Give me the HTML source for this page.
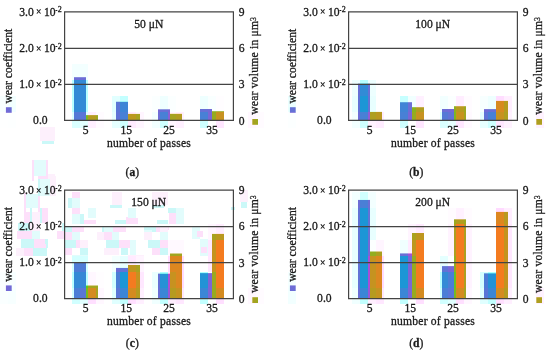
<!DOCTYPE html>
<html><head><meta charset="utf-8"><style>
html,body{margin:0;padding:0;background:#fff;}
svg{display:block;will-change:transform;}
text{font-family:"Liberation Serif",serif;font-size:11.6px;fill:#1a1a1a;stroke:#1a1a1a;stroke-width:0.3px;}
</style></head><body>
<svg width="550" height="355" viewBox="0 0 550 355" shape-rendering="crispEdges">
<rect width="550" height="355" fill="#fff"/>
<g><rect x="40" y="127" width="15" height="14" fill="#fdf0fc"/><rect x="42" y="141" width="12" height="3" fill="#cbf8f8"/><rect x="0" y="120" width="16" height="7" fill="#e2fcfc"/><rect x="32" y="160" width="2" height="18" fill="#fde0fa"/><rect x="34" y="160" width="12" height="16" fill="#e2fcfc"/><rect x="46" y="160" width="2" height="18" fill="#fde0fa"/><rect x="38" y="176" width="10" height="3" fill="#fde0fa"/><rect x="48" y="174" width="7" height="10" fill="#fdf0fc"/><rect x="32" y="176" width="2" height="5" fill="#fde0fa"/><rect x="40" y="176" width="8" height="3" fill="#fde0fa"/><rect x="38" y="179" width="2" height="17" fill="#cbf8f8"/><rect x="40" y="179" width="10" height="17" fill="#e2fcfc"/><rect x="50" y="176" width="6" height="20" fill="#fdf0fc"/><rect x="24" y="193" width="2" height="19" fill="#fde0fa"/><rect x="26" y="194" width="12" height="14" fill="#e2fcfc"/><rect x="38" y="196" width="2" height="16" fill="#fde0fa"/><rect x="30" y="208" width="2" height="4" fill="#cbf8f8"/><rect x="40" y="208" width="2" height="4" fill="#cbf8f8"/><rect x="42" y="208" width="6" height="4" fill="#fde0fa"/><rect x="24" y="212" width="6" height="11" fill="#fde0fa"/><rect x="30" y="212" width="2" height="11" fill="#cbf8f8"/><rect x="32" y="212" width="8" height="11" fill="#fdf0fc"/><rect x="40" y="212" width="2" height="11" fill="#cbf8f8"/><rect x="42" y="212" width="6" height="11" fill="#fde0fa"/><rect x="18" y="223" width="12" height="8" fill="#cbf8f8"/><rect x="30" y="223" width="10" height="8" fill="#fdf0fc"/><rect x="62" y="223" width="2" height="8" fill="#cbf8f8"/><rect x="17" y="231" width="15" height="8" fill="#fde0fa"/><rect x="32" y="231" width="8" height="8" fill="#e2fcfc"/><rect x="57" y="231" width="7" height="8" fill="#fde0fa"/><rect x="21" y="239" width="13" height="9" fill="#cbf8f8"/><rect x="34" y="239" width="11" height="9" fill="#fde0fa"/><rect x="45" y="239" width="3" height="9" fill="#cbf8f8"/><rect x="72" y="192" width="8" height="6" fill="#fde0fa"/><rect x="68" y="198" width="4" height="10" fill="#cbf8f8"/><rect x="72" y="198" width="8" height="10" fill="#e2fcfc"/><rect x="72" y="208" width="8" height="6" fill="#fde0fa"/><rect x="72" y="214" width="8" height="10" fill="#e2fcfc"/><rect x="80" y="214" width="4" height="10" fill="#cbf8f8"/><rect x="84" y="220" width="4" height="4" fill="#fde0fa"/><rect x="88" y="208" width="8" height="10" fill="#e2fcfc"/><rect x="88" y="220" width="8" height="4" fill="#fde0fa"/><rect x="110" y="205" width="12" height="3" fill="#cbf8f8"/><rect x="112" y="192" width="10" height="13" fill="#fdf0fc"/><rect x="115" y="220" width="11" height="4" fill="#cbf8f8"/><rect x="126" y="217" width="2" height="7" fill="#fde0fa"/><rect x="65" y="227" width="7" height="5" fill="#cbf8f8"/><rect x="72" y="227" width="12" height="5" fill="#fde0fa"/><rect x="102" y="227" width="2" height="5" fill="#cbf8f8"/><rect x="104" y="227" width="9" height="5" fill="#e2fcfc"/><rect x="113" y="227" width="13" height="5" fill="#fde0fa"/><rect x="65" y="232" width="7" height="8" fill="#fde0fa"/><rect x="72" y="232" width="8" height="8" fill="#e2fcfc"/><rect x="97" y="232" width="7" height="8" fill="#fdf0fc"/><rect x="104" y="232" width="8" height="8" fill="#fde0fa"/><rect x="112" y="232" width="7" height="8" fill="#e2fcfc"/><rect x="65" y="240" width="7" height="8" fill="#cbf8f8"/><rect x="72" y="240" width="4" height="8" fill="#cbf8f8"/><rect x="76" y="240" width="4" height="8" fill="#fde0fa"/><rect x="80" y="240" width="8" height="8" fill="#fdf0fc"/><rect x="106" y="240" width="13" height="8" fill="#cbf8f8"/><rect x="119" y="240" width="9" height="8" fill="#fde0fa"/><rect x="65" y="248" width="7" height="7" fill="#fde0fa"/><rect x="80" y="248" width="8" height="7" fill="#cbf8f8"/><rect x="104" y="248" width="15" height="7" fill="#fdf0fc"/><rect x="121" y="248" width="7" height="7" fill="#cbf8f8"/><rect x="72" y="255" width="16" height="7" fill="#e2fcfc"/><rect x="152" y="192" width="16" height="13" fill="#fdf0fc"/><rect x="152" y="205" width="12" height="3" fill="#cbf8f8"/><rect x="128" y="208" width="8" height="10" fill="#e2fcfc"/><rect x="128" y="218" width="10" height="6" fill="#fde0fa"/><rect x="168" y="208" width="8" height="5" fill="#cbf8f8"/><rect x="169" y="213" width="11" height="11" fill="#fde0fa"/><rect x="176" y="208" width="8" height="16" fill="#e2fcfc"/><rect x="157" y="220" width="11" height="4" fill="#cbf8f8"/><rect x="144" y="226" width="12" height="4" fill="#cbf8f8"/><rect x="156" y="226" width="13" height="4" fill="#fde0fa"/><rect x="144" y="230" width="8" height="2" fill="#e2fcfc"/><rect x="152" y="230" width="4" height="2" fill="#cbf8f8"/><rect x="156" y="230" width="4" height="2" fill="#fde0fa"/><rect x="160" y="227" width="8" height="5" fill="#fdf0fc"/><rect x="144" y="232" width="8" height="8" fill="#fdf0fc"/><rect x="160" y="232" width="8" height="8" fill="#e2fcfc"/><rect x="128" y="240" width="2" height="8" fill="#fde0fa"/><rect x="130" y="240" width="6" height="15" fill="#e2fcfc"/><rect x="148" y="240" width="12" height="8" fill="#cbf8f8"/><rect x="160" y="240" width="8" height="8" fill="#fde0fa"/><rect x="168" y="240" width="4" height="8" fill="#fde0fa"/><rect x="152" y="248" width="8" height="7" fill="#fde0fa"/><rect x="160" y="248" width="8" height="7" fill="#cbf8f8"/><rect x="128" y="255" width="16" height="7" fill="#fdf0fc"/><rect x="240" y="190" width="8" height="12" fill="#fdf0fc"/><rect x="241" y="202" width="6" height="6" fill="#cbf8f8"/><rect x="231" y="207" width="4" height="3" fill="#cbf8f8"/><rect x="192" y="227" width="8" height="12" fill="#e2fcfc"/><rect x="197" y="231" width="6" height="6" fill="#fde0fa"/><rect x="200" y="239" width="8" height="17" fill="#e2fcfc"/><rect x="201" y="247" width="6" height="6" fill="#fde0fa"/><rect x="22" y="244" width="12" height="4" fill="#cbf8f8"/><rect x="34" y="244" width="12" height="4" fill="#fde0fa"/><rect x="16" y="248" width="8" height="8" fill="#fdf0fc"/><rect x="24" y="248" width="9" height="8" fill="#fde0fa"/><rect x="33" y="248" width="14" height="8" fill="#cbf8f8"/></g>
<g><rect x="72" y="64" width="16" height="13" fill="#f3ffff"/><rect x="74" y="77" width="12" height="1" fill="#878bde"/><rect x="72" y="77" width="2" height="3" fill="#f3ffff"/><rect x="86" y="77" width="2" height="3" fill="#f3ffff"/><rect x="74" y="78" width="12" height="2" fill="#6d6dd6"/><rect x="352" y="80" width="8" height="3" fill="#edffff"/><rect x="360" y="80" width="8" height="3" fill="#b7ffff"/><rect x="368" y="80" width="8" height="3" fill="#edffff"/><rect x="358" y="83" width="2" height="1" fill="#b7cbef"/><rect x="360" y="83" width="8" height="1" fill="#81e7ef"/><rect x="368" y="83" width="2" height="1" fill="#b7cbef"/><rect x="352" y="83" width="6" height="13" fill="#edffff"/><rect x="370" y="83" width="6" height="13" fill="#edffff"/><rect x="358" y="84" width="2" height="12" fill="#6770d6"/><rect x="360" y="84" width="8" height="12" fill="#318bd6"/><rect x="368" y="84" width="2" height="12" fill="#6770d6"/><rect x="496" y="96" width="8" height="4" fill="#ffddff"/><rect x="504" y="96" width="8" height="4" fill="#ffeeff"/><rect x="112" y="96" width="8" height="5" fill="#e1ffff"/><rect x="120" y="96" width="8" height="5" fill="#c3ffff"/><rect x="496" y="100" width="8" height="1" fill="#ffd5e9"/><rect x="504" y="100" width="4" height="1" fill="#ffe6e9"/><rect x="400" y="96" width="8" height="6" fill="#c6ffff"/><rect x="408" y="96" width="8" height="6" fill="#f1ffff"/><rect x="116" y="101" width="4" height="1" fill="#b9e1f3"/><rect x="120" y="101" width="8" height="1" fill="#9bf0f3"/><rect x="400" y="102" width="8" height="1" fill="#5ba2de"/><rect x="408" y="102" width="4" height="1" fill="#868cde"/><rect x="448" y="96" width="8" height="10" fill="#fbffff"/><rect x="456" y="96" width="8" height="10" fill="#ffedff"/><rect x="464" y="96" width="8" height="10" fill="#fffbff"/><rect x="0" y="96" width="8" height="11" fill="#f8ffff"/><rect x="8" y="96" width="8" height="11" fill="#f2ffff"/><rect x="288" y="96" width="8" height="11" fill="#ebffff"/><rect x="416" y="96" width="8" height="11" fill="#fff0ff"/><rect x="412" y="102" width="4" height="5" fill="#f1ffff"/><rect x="454" y="106" width="2" height="1" fill="#a6be4d"/><rect x="456" y="106" width="8" height="1" fill="#cdab4d"/><rect x="464" y="106" width="2" height="1" fill="#b3b84d"/><rect x="5" y="107" width="1" height="1" fill="#edf7fc"/><rect x="6" y="107" width="2" height="1" fill="#8c89de"/><rect x="8" y="107" width="3" height="1" fill="#878cde"/><rect x="11" y="107" width="1" height="1" fill="#a7b0e8"/><rect x="289" y="107" width="1" height="1" fill="#e0fdfc"/><rect x="290" y="107" width="5" height="1" fill="#7f8fde"/><rect x="295" y="107" width="1" height="1" fill="#a0b4e8"/><rect x="412" y="107" width="4" height="1" fill="#9cc34d"/><rect x="416" y="107" width="8" height="1" fill="#c7ae4d"/><rect x="152" y="96" width="8" height="13" fill="#fbffff"/><rect x="160" y="96" width="8" height="13" fill="#efffff"/><rect x="168" y="96" width="8" height="13" fill="#fbffff"/><rect x="200" y="96" width="8" height="13" fill="#eeffff"/><rect x="208" y="96" width="8" height="13" fill="#f9ffff"/><rect x="440" y="96" width="8" height="13" fill="#f2ffff"/><rect x="480" y="96" width="8" height="13" fill="#f7ffff"/><rect x="488" y="96" width="8" height="13" fill="#eeffff"/><rect x="448" y="106" width="6" height="3" fill="#fbffff"/><rect x="158" y="109" width="2" height="1" fill="#9d96e2"/><rect x="160" y="109" width="8" height="1" fill="#919ce2"/><rect x="168" y="109" width="2" height="1" fill="#9d96e2"/><rect x="484" y="109" width="4" height="1" fill="#7e7ada"/><rect x="488" y="109" width="8" height="1" fill="#757fda"/><rect x="216" y="96" width="8" height="15" fill="#fffdff"/><rect x="370" y="96" width="6" height="15" fill="#e8ffff"/><rect x="212" y="109" width="4" height="2" fill="#f9ffff"/><rect x="72" y="80" width="2" height="32" fill="#b9ffff"/><rect x="74" y="80" width="12" height="32" fill="#338ad6"/><rect x="86" y="80" width="2" height="32" fill="#b9ffff"/><rect x="352" y="96" width="6" height="16" fill="#e8ffff"/><rect x="358" y="96" width="2" height="16" fill="#6273d6"/><rect x="360" y="96" width="8" height="16" fill="#1c96d6"/><rect x="368" y="96" width="2" height="16" fill="#6272d6"/><rect x="508" y="100" width="4" height="12" fill="#ffeeff"/><rect x="112" y="101" width="4" height="11" fill="#e1ffff"/><rect x="496" y="101" width="8" height="11" fill="#d78a20"/><rect x="504" y="101" width="4" height="11" fill="#b69b20"/><rect x="116" y="102" width="4" height="10" fill="#5b76d6"/><rect x="120" y="102" width="8" height="10" fill="#3d85d6"/><rect x="400" y="103" width="8" height="9" fill="#4084d6"/><rect x="408" y="103" width="4" height="9" fill="#6b6ed6"/><rect x="466" y="106" width="6" height="6" fill="#fffbff"/><rect x="0" y="107" width="5" height="5" fill="#f8ffff"/><rect x="12" y="107" width="4" height="5" fill="#f2ffff"/><rect x="288" y="107" width="1" height="5" fill="#ebffff"/><rect x="454" y="107" width="2" height="5" fill="#90ae20"/><rect x="456" y="107" width="8" height="5" fill="#b79a20"/><rect x="464" y="107" width="2" height="5" fill="#9da720"/><rect x="5" y="108" width="1" height="4" fill="#eaf3fb"/><rect x="6" y="108" width="2" height="4" fill="#726ad6"/><rect x="8" y="108" width="3" height="4" fill="#6c6dd6"/><rect x="11" y="108" width="1" height="4" fill="#949be2"/><rect x="289" y="108" width="1" height="4" fill="#ddfafb"/><rect x="290" y="108" width="5" height="4" fill="#6571d6"/><rect x="295" y="108" width="1" height="4" fill="#8d9fe2"/><rect x="412" y="108" width="4" height="4" fill="#87b320"/><rect x="416" y="108" width="8" height="4" fill="#b19d20"/><rect x="152" y="109" width="6" height="3" fill="#fbffff"/><rect x="170" y="109" width="6" height="3" fill="#fbffff"/><rect x="200" y="109" width="8" height="3" fill="#6770d6"/><rect x="208" y="109" width="4" height="3" fill="#726ad6"/><rect x="440" y="109" width="2" height="3" fill="#f2ffff"/><rect x="442" y="109" width="6" height="3" fill="#6c6dd6"/><rect x="448" y="109" width="6" height="3" fill="#7469d6"/><rect x="480" y="109" width="4" height="3" fill="#f7ffff"/><rect x="158" y="110" width="2" height="2" fill="#7569d6"/><rect x="160" y="110" width="8" height="2" fill="#696fd6"/><rect x="168" y="110" width="2" height="2" fill="#7569d6"/><rect x="484" y="110" width="4" height="2" fill="#706bd6"/><rect x="488" y="110" width="8" height="2" fill="#686fd6"/><rect x="212" y="111" width="4" height="1" fill="#a4bf4d"/><rect x="216" y="111" width="8" height="1" fill="#afba4d"/><rect x="370" y="111" width="6" height="1" fill="#deffe9"/><rect x="376" y="111" width="6" height="1" fill="#f5f6e9"/><rect x="0" y="112" width="5" height="1" fill="#feffff"/><rect x="5" y="112" width="1" height="1" fill="#f3f3fc"/><rect x="6" y="112" width="5" height="1" fill="#9286de"/><rect x="11" y="112" width="1" height="1" fill="#b2abe8"/><rect x="12" y="112" width="4" height="1" fill="#fdffff"/><rect x="128" y="112" width="8" height="1" fill="#ffebff"/><rect x="136" y="112" width="8" height="1" fill="#fff5ff"/><rect x="170" y="112" width="6" height="1" fill="#fff6ff"/><rect x="176" y="112" width="8" height="1" fill="#fff0ff"/><rect x="288" y="112" width="1" height="1" fill="#fcffff"/><rect x="289" y="112" width="1" height="1" fill="#f1f5fc"/><rect x="290" y="112" width="5" height="1" fill="#9087de"/><rect x="295" y="112" width="1" height="1" fill="#b0abe8"/><rect x="128" y="113" width="8" height="1" fill="#ffe3e9"/><rect x="136" y="113" width="4" height="1" fill="#ffede9"/><rect x="170" y="113" width="6" height="1" fill="#fbe6d2"/><rect x="176" y="113" width="6" height="1" fill="#ffdfd2"/><rect x="86" y="112" width="2" height="3" fill="#e2ffff"/><rect x="88" y="112" width="8" height="3" fill="#ffefff"/><rect x="96" y="112" width="8" height="3" fill="#fffbff"/><rect x="86" y="115" width="2" height="1" fill="#83c236"/><rect x="88" y="115" width="8" height="1" fill="#bfa436"/><rect x="96" y="115" width="2" height="1" fill="#a7b036"/><rect x="248" y="112" width="8" height="7" fill="#fff7ff"/><rect x="256" y="112" width="8" height="7" fill="#fffbff"/><rect x="536" y="112" width="8" height="7" fill="#fff2ff"/><rect x="74" y="112" width="6" height="8" fill="#5479d6"/><rect x="80" y="112" width="6" height="8" fill="#5c75d6"/><rect x="116" y="112" width="4" height="8" fill="#6073d6"/><rect x="120" y="112" width="8" height="8" fill="#4880d6"/><rect x="158" y="112" width="2" height="8" fill="#6d6dd6"/><rect x="160" y="112" width="8" height="8" fill="#4880d6"/><rect x="168" y="112" width="2" height="8" fill="#8a5ed6"/><rect x="200" y="112" width="8" height="8" fill="#4880d6"/><rect x="208" y="112" width="4" height="8" fill="#7966d6"/><rect x="212" y="112" width="4" height="8" fill="#95ab20"/><rect x="216" y="112" width="8" height="8" fill="#c79220"/><rect x="358" y="112" width="2" height="8" fill="#6d6dd6"/><rect x="360" y="112" width="8" height="8" fill="#4880d6"/><rect x="368" y="112" width="2" height="8" fill="#925ad6"/><rect x="370" y="112" width="6" height="8" fill="#ae9f20"/><rect x="376" y="112" width="6" height="8" fill="#ba9820"/><rect x="400" y="112" width="8" height="8" fill="#4880d6"/><rect x="408" y="112" width="4" height="8" fill="#7966d6"/><rect x="412" y="112" width="4" height="8" fill="#95ab20"/><rect x="416" y="112" width="8" height="8" fill="#c79220"/><rect x="442" y="112" width="6" height="8" fill="#5479d6"/><rect x="448" y="112" width="6" height="8" fill="#6173d6"/><rect x="454" y="112" width="2" height="8" fill="#7db820"/><rect x="456" y="112" width="8" height="8" fill="#c79220"/><rect x="464" y="112" width="2" height="8" fill="#a1a520"/><rect x="484" y="112" width="4" height="8" fill="#6073d6"/><rect x="488" y="112" width="8" height="8" fill="#4880d6"/><rect x="496" y="112" width="8" height="8" fill="#c79220"/><rect x="504" y="112" width="4" height="8" fill="#ae9f20"/><rect x="128" y="114" width="8" height="6" fill="#bb9820"/><rect x="136" y="114" width="4" height="6" fill="#a8a220"/><rect x="170" y="114" width="6" height="6" fill="#a6a320"/><rect x="176" y="114" width="6" height="6" fill="#b29c20"/><rect x="86" y="116" width="2" height="4" fill="#78ba20"/><rect x="88" y="116" width="8" height="4" fill="#b49b20"/><rect x="96" y="116" width="2" height="4" fill="#9da720"/><rect x="72" y="112" width="2" height="9" fill="#daffff"/><rect x="112" y="112" width="4" height="9" fill="#e7ffff"/><rect x="152" y="112" width="6" height="9" fill="#f3ffff"/><rect x="352" y="112" width="6" height="9" fill="#f3ffff"/><rect x="382" y="112" width="2" height="9" fill="#ffecff"/><rect x="440" y="112" width="2" height="9" fill="#daffff"/><rect x="466" y="112" width="6" height="9" fill="#fff9ff"/><rect x="480" y="112" width="4" height="9" fill="#e7ffff"/><rect x="508" y="112" width="4" height="9" fill="#fff2ff"/><rect x="140" y="113" width="4" height="8" fill="#fff5ff"/><rect x="182" y="113" width="2" height="8" fill="#fff0ff"/><rect x="98" y="115" width="6" height="6" fill="#fffbff"/><rect x="74" y="120" width="6" height="1" fill="#a5d5ef"/><rect x="80" y="120" width="6" height="1" fill="#add1ef"/><rect x="86" y="120" width="2" height="1" fill="#b8eca6"/><rect x="88" y="120" width="8" height="1" fill="#f4cea6"/><rect x="96" y="120" width="2" height="1" fill="#dcdaa6"/><rect x="116" y="120" width="4" height="1" fill="#b1ceef"/><rect x="120" y="120" width="8" height="1" fill="#99dbef"/><rect x="128" y="120" width="8" height="1" fill="#fbcaa6"/><rect x="136" y="120" width="4" height="1" fill="#e8d4a6"/><rect x="158" y="120" width="2" height="1" fill="#bdc8ef"/><rect x="160" y="120" width="8" height="1" fill="#99dbef"/><rect x="168" y="120" width="2" height="1" fill="#dbb9ef"/><rect x="170" y="120" width="6" height="1" fill="#e6d5a6"/><rect x="176" y="120" width="6" height="1" fill="#f2cfa6"/><rect x="200" y="120" width="8" height="1" fill="#99dbef"/><rect x="208" y="120" width="4" height="1" fill="#cac2ef"/><rect x="212" y="120" width="4" height="1" fill="#d5dda6"/><rect x="216" y="120" width="8" height="1" fill="#ffc4a6"/><rect x="358" y="120" width="2" height="1" fill="#bdc8ef"/><rect x="360" y="120" width="8" height="1" fill="#99dbef"/><rect x="368" y="120" width="2" height="1" fill="#e3b5ef"/><rect x="370" y="120" width="6" height="1" fill="#eed1a6"/><rect x="376" y="120" width="6" height="1" fill="#facba6"/><rect x="400" y="120" width="8" height="1" fill="#99dbef"/><rect x="408" y="120" width="4" height="1" fill="#cac2ef"/><rect x="412" y="120" width="4" height="1" fill="#d5dda6"/><rect x="416" y="120" width="8" height="1" fill="#ffc4a6"/><rect x="442" y="120" width="6" height="1" fill="#a5d5ef"/><rect x="448" y="120" width="6" height="1" fill="#b1ceef"/><rect x="454" y="120" width="2" height="1" fill="#bceaa6"/><rect x="456" y="120" width="8" height="1" fill="#ffc4a6"/><rect x="464" y="120" width="2" height="1" fill="#e1d7a6"/><rect x="484" y="120" width="4" height="1" fill="#b1ceef"/><rect x="488" y="120" width="8" height="1" fill="#99dbef"/><rect x="496" y="120" width="8" height="1" fill="#ffc4a6"/><rect x="504" y="120" width="4" height="1" fill="#eed1a6"/><rect x="252" y="119" width="1" height="5" fill="#c5bc63"/><rect x="253" y="119" width="3" height="5" fill="#a5a320"/><rect x="256" y="119" width="2" height="5" fill="#9da720"/><rect x="536" y="119" width="1" height="5" fill="#cdb863"/><rect x="537" y="119" width="5" height="5" fill="#ad9f20"/><rect x="248" y="119" width="4" height="6" fill="#fff7ff"/><rect x="258" y="119" width="6" height="6" fill="#fffbff"/><rect x="542" y="119" width="2" height="6" fill="#fff2ff"/><rect x="252" y="124" width="1" height="1" fill="#d3c882"/><rect x="253" y="124" width="3" height="1" fill="#bab44d"/><rect x="256" y="124" width="2" height="1" fill="#b3b84d"/><rect x="536" y="124" width="1" height="1" fill="#dcc482"/><rect x="537" y="124" width="5" height="1" fill="#c3b04d"/><rect x="0" y="113" width="8" height="15" fill="#feffff"/><rect x="8" y="113" width="8" height="15" fill="#fdffff"/><rect x="288" y="113" width="8" height="15" fill="#fcffff"/><rect x="72" y="121" width="8" height="7" fill="#daffff"/><rect x="80" y="121" width="8" height="7" fill="#e2ffff"/><rect x="88" y="121" width="8" height="7" fill="#ffefff"/><rect x="96" y="121" width="8" height="7" fill="#fffbff"/><rect x="112" y="121" width="8" height="7" fill="#e7ffff"/><rect x="120" y="121" width="8" height="7" fill="#ceffff"/><rect x="128" y="121" width="8" height="7" fill="#ffebff"/><rect x="136" y="121" width="8" height="7" fill="#fff5ff"/><rect x="152" y="121" width="8" height="7" fill="#f3ffff"/><rect x="160" y="121" width="8" height="7" fill="#ceffff"/><rect x="168" y="121" width="8" height="7" fill="#fff6ff"/><rect x="176" y="121" width="8" height="7" fill="#fff0ff"/><rect x="200" y="121" width="8" height="7" fill="#ceffff"/><rect x="216" y="121" width="8" height="7" fill="#ffe6ff"/><rect x="352" y="121" width="8" height="7" fill="#f3ffff"/><rect x="360" y="121" width="8" height="7" fill="#ceffff"/><rect x="368" y="121" width="8" height="7" fill="#fff2ff"/><rect x="376" y="121" width="8" height="7" fill="#ffecff"/><rect x="400" y="121" width="8" height="7" fill="#ceffff"/><rect x="416" y="121" width="8" height="7" fill="#ffe6ff"/><rect x="440" y="121" width="8" height="7" fill="#daffff"/><rect x="448" y="121" width="8" height="7" fill="#e7ffff"/><rect x="456" y="121" width="8" height="7" fill="#ffe6ff"/><rect x="464" y="121" width="8" height="7" fill="#fff9ff"/><rect x="480" y="121" width="8" height="7" fill="#e7ffff"/><rect x="488" y="121" width="8" height="7" fill="#ceffff"/><rect x="496" y="121" width="8" height="7" fill="#ffe6ff"/><rect x="504" y="121" width="8" height="7" fill="#fff2ff"/><rect x="248" y="125" width="8" height="3" fill="#fff7ff"/><rect x="256" y="125" width="8" height="3" fill="#fffbff"/><rect x="536" y="125" width="8" height="3" fill="#fff2ff"/><rect x="352" y="192" width="8" height="7" fill="#f3ffff"/><rect x="360" y="192" width="8" height="7" fill="#d0ffff"/><rect x="368" y="192" width="8" height="7" fill="#f3ffff"/><rect x="358" y="199" width="2" height="1" fill="#e6f6fb"/><rect x="360" y="199" width="8" height="1" fill="#c3fffb"/><rect x="368" y="199" width="2" height="1" fill="#e6f6fb"/><rect x="352" y="199" width="6" height="9" fill="#f3ffff"/><rect x="370" y="199" width="6" height="9" fill="#f3ffff"/><rect x="358" y="200" width="2" height="8" fill="#6d6dd6"/><rect x="360" y="200" width="8" height="8" fill="#4a7fd6"/><rect x="368" y="200" width="2" height="8" fill="#6d6dd6"/><rect x="496" y="208" width="8" height="3" fill="#ffdaff"/><rect x="504" y="208" width="8" height="3" fill="#ffedff"/><rect x="496" y="211" width="8" height="1" fill="#ffd2e9"/><rect x="504" y="211" width="4" height="1" fill="#ffe4e9"/><rect x="448" y="208" width="8" height="11" fill="#fffbff"/><rect x="456" y="208" width="8" height="11" fill="#fff1ff"/><rect x="464" y="208" width="8" height="11" fill="#fffbff"/><rect x="454" y="219" width="2" height="1" fill="#bcc163"/><rect x="456" y="219" width="8" height="1" fill="#d1b663"/><rect x="464" y="219" width="2" height="1" fill="#bcc163"/><rect x="508" y="211" width="4" height="13" fill="#ffedff"/><rect x="496" y="212" width="8" height="12" fill="#dd8720"/><rect x="504" y="212" width="4" height="12" fill="#b99920"/><rect x="448" y="219" width="6" height="5" fill="#fffbff"/><rect x="466" y="219" width="6" height="5" fill="#fffbff"/><rect x="454" y="220" width="2" height="4" fill="#9ca820"/><rect x="456" y="220" width="8" height="4" fill="#b19d20"/><rect x="464" y="220" width="2" height="4" fill="#9ca820"/><rect x="208" y="224" width="8" height="9" fill="#fff6ff"/><rect x="216" y="224" width="8" height="9" fill="#ffedff"/><rect x="408" y="224" width="8" height="9" fill="#fff4ff"/><rect x="416" y="224" width="8" height="9" fill="#ffeaff"/><rect x="212" y="233" width="4" height="1" fill="#ffede9"/><rect x="216" y="233" width="8" height="1" fill="#ffe4e9"/><rect x="368" y="208" width="2" height="32" fill="#6273d6"/><rect x="370" y="208" width="6" height="32" fill="#e8ffff"/><rect x="208" y="233" width="4" height="7" fill="#fff6ff"/><rect x="408" y="233" width="4" height="7" fill="#fff4ff"/><rect x="412" y="233" width="4" height="7" fill="#aaa120"/><rect x="416" y="233" width="8" height="7" fill="#be9620"/><rect x="212" y="234" width="4" height="6" fill="#a7a220"/><rect x="216" y="234" width="8" height="6" fill="#b99920"/><rect x="370" y="240" width="6" height="11" fill="#fcffff"/><rect x="376" y="240" width="8" height="11" fill="#fff5ff"/><rect x="370" y="251" width="6" height="1" fill="#c7d78f"/><rect x="376" y="251" width="6" height="1" fill="#decb8f"/><rect x="168" y="240" width="16" height="13" fill="#fff9ff"/><rect x="400" y="240" width="8" height="13" fill="#f0ffff"/><rect x="408" y="240" width="4" height="13" fill="#ffebff"/><rect x="170" y="253" width="12" height="1" fill="#d5d08f"/><rect x="400" y="253" width="8" height="1" fill="#9fabe6"/><rect x="408" y="253" width="4" height="1" fill="#d78fe6"/><rect x="448" y="224" width="6" height="32" fill="#fff3ff"/><rect x="454" y="224" width="2" height="32" fill="#ad9f20"/><rect x="368" y="240" width="2" height="16" fill="#7668d6"/><rect x="412" y="240" width="4" height="16" fill="#bd9720"/><rect x="382" y="251" width="2" height="5" fill="#fff5ff"/><rect x="370" y="252" width="6" height="4" fill="#92ad20"/><rect x="376" y="252" width="6" height="4" fill="#a9a120"/><rect x="168" y="253" width="2" height="3" fill="#fff9ff"/><rect x="182" y="253" width="2" height="3" fill="#fff9ff"/><rect x="170" y="254" width="12" height="2" fill="#a0a620"/><rect x="400" y="254" width="8" height="2" fill="#6a6ed6"/><rect x="408" y="254" width="4" height="2" fill="#a152d6"/><rect x="72" y="256" width="16" height="6" fill="#d4ffff"/><rect x="74" y="262" width="12" height="1" fill="#699bde"/><rect x="128" y="256" width="8" height="9" fill="#ffeaff"/><rect x="136" y="256" width="8" height="9" fill="#fff4ff"/><rect x="440" y="256" width="8" height="10" fill="#e5ffff"/><rect x="448" y="256" width="6" height="10" fill="#fdffff"/><rect x="112" y="256" width="8" height="11" fill="#f3ffff"/><rect x="120" y="256" width="8" height="11" fill="#e7ffff"/><rect x="442" y="266" width="6" height="1" fill="#6d83da"/><rect x="448" y="266" width="6" height="1" fill="#8477da"/><rect x="116" y="267" width="4" height="1" fill="#e6f6fb"/><rect x="120" y="267" width="8" height="1" fill="#dafcfb"/><rect x="208" y="240" width="4" height="32" fill="#ffe7ff"/><rect x="212" y="240" width="4" height="32" fill="#c49320"/><rect x="168" y="256" width="2" height="16" fill="#ffdbff"/><rect x="170" y="256" width="12" height="16" fill="#dc8720"/><rect x="454" y="256" width="2" height="16" fill="#93ac20"/><rect x="72" y="262" width="2" height="10" fill="#d4ffff"/><rect x="86" y="262" width="2" height="10" fill="#d4ffff"/><rect x="74" y="263" width="12" height="9" fill="#4e7cd6"/><rect x="128" y="265" width="8" height="7" fill="#be9620"/><rect x="136" y="265" width="4" height="7" fill="#aaa120"/><rect x="140" y="265" width="4" height="7" fill="#fff4ff"/><rect x="440" y="266" width="2" height="6" fill="#e5ffff"/><rect x="112" y="267" width="4" height="5" fill="#f3ffff"/><rect x="442" y="267" width="6" height="5" fill="#5f74d6"/><rect x="448" y="267" width="6" height="5" fill="#7768d6"/><rect x="116" y="268" width="4" height="4" fill="#6d6dd6"/><rect x="120" y="268" width="8" height="4" fill="#6173d6"/><rect x="152" y="272" width="8" height="1" fill="#eaffff"/><rect x="160" y="272" width="8" height="1" fill="#abffff"/><rect x="168" y="272" width="2" height="1" fill="#ffe5ff"/><rect x="200" y="272" width="8" height="1" fill="#a9ffff"/><rect x="208" y="272" width="4" height="1" fill="#fffdff"/><rect x="480" y="272" width="8" height="1" fill="#d4ffff"/><rect x="488" y="272" width="8" height="1" fill="#aaffff"/><rect x="158" y="273" width="2" height="1" fill="#b4cdef"/><rect x="160" y="273" width="8" height="1" fill="#76edef"/><rect x="168" y="273" width="2" height="1" fill="#fca8ef"/><rect x="200" y="273" width="8" height="1" fill="#30a2da"/><rect x="208" y="273" width="4" height="1" fill="#8b74da"/><rect x="484" y="273" width="4" height="1" fill="#76aae2"/><rect x="488" y="273" width="8" height="1" fill="#4cc0e2"/><rect x="0" y="272" width="8" height="13" fill="#fbffff"/><rect x="8" y="272" width="8" height="13" fill="#f8ffff"/><rect x="86" y="272" width="2" height="13" fill="#bdffff"/><rect x="88" y="272" width="8" height="13" fill="#fff7ff"/><rect x="96" y="272" width="8" height="13" fill="#fffdff"/><rect x="288" y="272" width="8" height="13" fill="#f4ffff"/><rect x="5" y="285" width="1" height="1" fill="#f3f8fd"/><rect x="6" y="285" width="2" height="1" fill="#aba6e6"/><rect x="8" y="285" width="3" height="1" fill="#a8a7e6"/><rect x="11" y="285" width="1" height="1" fill="#c0c3ee"/><rect x="86" y="285" width="2" height="1" fill="#88f78f"/><rect x="88" y="285" width="8" height="1" fill="#d9ce8f"/><rect x="96" y="285" width="2" height="1" fill="#ced38f"/><rect x="289" y="285" width="1" height="1" fill="#ecfbfd"/><rect x="290" y="285" width="5" height="1" fill="#a4a9e6"/><rect x="295" y="285" width="1" height="1" fill="#bcc5ee"/><rect x="352" y="208" width="6" height="80" fill="#e8ffff"/><rect x="358" y="208" width="2" height="80" fill="#6273d6"/><rect x="360" y="208" width="8" height="80" fill="#1c96d6"/><rect x="456" y="224" width="8" height="64" fill="#f47b20"/><rect x="464" y="224" width="2" height="64" fill="#ad9f20"/><rect x="466" y="224" width="6" height="64" fill="#fff3ff"/><rect x="496" y="224" width="8" height="64" fill="#f47b20"/><rect x="504" y="224" width="4" height="64" fill="#c49320"/><rect x="508" y="224" width="4" height="64" fill="#ffe7ff"/><rect x="216" y="240" width="8" height="48" fill="#f47b20"/><rect x="416" y="240" width="8" height="48" fill="#f47b20"/><rect x="182" y="256" width="2" height="32" fill="#ffdbff"/><rect x="368" y="256" width="2" height="32" fill="#a94ed6"/><rect x="370" y="256" width="6" height="32" fill="#c59320"/><rect x="376" y="256" width="6" height="32" fill="#dc8720"/><rect x="382" y="256" width="2" height="32" fill="#ffdbff"/><rect x="400" y="256" width="8" height="32" fill="#1c96d6"/><rect x="72" y="272" width="2" height="16" fill="#b9ffff"/><rect x="74" y="272" width="6" height="16" fill="#338ad6"/><rect x="80" y="272" width="6" height="16" fill="#3788d6"/><rect x="112" y="272" width="4" height="16" fill="#d1ffff"/><rect x="116" y="272" width="4" height="16" fill="#4a7ed6"/><rect x="120" y="272" width="8" height="16" fill="#1c96d6"/><rect x="128" y="272" width="8" height="16" fill="#f47b20"/><rect x="136" y="272" width="4" height="16" fill="#c49320"/><rect x="140" y="272" width="4" height="16" fill="#ffe7ff"/><rect x="170" y="272" width="6" height="16" fill="#c79220"/><rect x="176" y="272" width="6" height="16" fill="#dc8720"/><rect x="212" y="272" width="4" height="16" fill="#99a920"/><rect x="440" y="272" width="2" height="16" fill="#b9ffff"/><rect x="442" y="272" width="6" height="16" fill="#338ad6"/><rect x="448" y="272" width="6" height="16" fill="#4b7ed6"/><rect x="454" y="272" width="2" height="16" fill="#67c320"/><rect x="152" y="273" width="6" height="15" fill="#eaffff"/><rect x="480" y="273" width="4" height="15" fill="#d4ffff"/><rect x="158" y="274" width="2" height="14" fill="#6471d6"/><rect x="160" y="274" width="8" height="14" fill="#2591d6"/><rect x="168" y="274" width="2" height="14" fill="#ab4dd6"/><rect x="200" y="274" width="8" height="14" fill="#2293d6"/><rect x="208" y="274" width="4" height="14" fill="#7d64d6"/><rect x="484" y="274" width="4" height="14" fill="#4e7cd6"/><rect x="488" y="274" width="8" height="14" fill="#2492d6"/><rect x="0" y="285" width="5" height="3" fill="#fbffff"/><rect x="12" y="285" width="4" height="3" fill="#f8ffff"/><rect x="98" y="285" width="6" height="3" fill="#fffdff"/><rect x="288" y="285" width="1" height="3" fill="#f4ffff"/><rect x="5" y="286" width="1" height="2" fill="#eef2fb"/><rect x="6" y="286" width="2" height="2" fill="#7569d6"/><rect x="8" y="286" width="3" height="2" fill="#726ad6"/><rect x="11" y="286" width="1" height="2" fill="#9a98e2"/><rect x="86" y="286" width="2" height="2" fill="#53cd20"/><rect x="88" y="286" width="8" height="2" fill="#a4a420"/><rect x="96" y="286" width="2" height="2" fill="#99aa20"/><rect x="289" y="286" width="1" height="2" fill="#e7f5fb"/><rect x="290" y="286" width="5" height="2" fill="#6e6cd6"/><rect x="295" y="286" width="1" height="2" fill="#969ae2"/><rect x="0" y="288" width="5" height="3" fill="#faffff"/><rect x="5" y="288" width="1" height="3" fill="#edf2fb"/><rect x="6" y="288" width="2" height="3" fill="#7469d6"/><rect x="8" y="288" width="3" height="3" fill="#716bd6"/><rect x="11" y="288" width="1" height="3" fill="#9999e2"/><rect x="12" y="288" width="4" height="3" fill="#f7ffff"/><rect x="288" y="288" width="1" height="3" fill="#f2ffff"/><rect x="289" y="288" width="1" height="3" fill="#e5f6fb"/><rect x="290" y="288" width="5" height="3" fill="#6c6dd6"/><rect x="295" y="288" width="1" height="3" fill="#949be2"/><rect x="248" y="288" width="8" height="9" fill="#fff7ff"/><rect x="256" y="288" width="8" height="9" fill="#fffbff"/><rect x="536" y="288" width="8" height="9" fill="#fff2ff"/><rect x="408" y="256" width="4" height="42" fill="#7a66d6"/><rect x="412" y="256" width="4" height="42" fill="#96ab20"/><rect x="74" y="288" width="6" height="10" fill="#4b7ed6"/><rect x="80" y="288" width="6" height="10" fill="#5a76d6"/><rect x="86" y="288" width="2" height="10" fill="#76bb20"/><rect x="88" y="288" width="8" height="10" fill="#d48b20"/><rect x="96" y="288" width="2" height="10" fill="#a5a320"/><rect x="116" y="288" width="4" height="10" fill="#5a76d6"/><rect x="120" y="288" width="8" height="10" fill="#3b86d6"/><rect x="128" y="288" width="8" height="10" fill="#d48b20"/><rect x="136" y="288" width="4" height="10" fill="#b49b20"/><rect x="158" y="288" width="2" height="10" fill="#696fd6"/><rect x="160" y="288" width="8" height="10" fill="#3b86d6"/><rect x="168" y="288" width="2" height="10" fill="#9956d6"/><rect x="170" y="288" width="6" height="10" fill="#b59b20"/><rect x="176" y="288" width="6" height="10" fill="#c49320"/><rect x="200" y="288" width="8" height="10" fill="#3b86d6"/><rect x="208" y="288" width="4" height="10" fill="#7a66d6"/><rect x="212" y="288" width="4" height="10" fill="#96ab20"/><rect x="216" y="288" width="8" height="10" fill="#d48b20"/><rect x="358" y="288" width="2" height="10" fill="#696fd6"/><rect x="360" y="288" width="8" height="10" fill="#3b86d6"/><rect x="368" y="288" width="2" height="10" fill="#9956d6"/><rect x="370" y="288" width="6" height="10" fill="#b59b20"/><rect x="376" y="288" width="6" height="10" fill="#c49320"/><rect x="400" y="288" width="8" height="10" fill="#3b86d6"/><rect x="416" y="288" width="8" height="10" fill="#d48b20"/><rect x="442" y="288" width="6" height="10" fill="#4b7ed6"/><rect x="448" y="288" width="6" height="10" fill="#5a76d6"/><rect x="454" y="288" width="2" height="10" fill="#76bb20"/><rect x="456" y="288" width="8" height="10" fill="#d48b20"/><rect x="464" y="288" width="2" height="10" fill="#a5a320"/><rect x="484" y="288" width="4" height="10" fill="#5a76d6"/><rect x="488" y="288" width="8" height="10" fill="#3b86d6"/><rect x="496" y="288" width="8" height="10" fill="#d48b20"/><rect x="504" y="288" width="4" height="10" fill="#b49b20"/><rect x="252" y="297" width="1" height="1" fill="#d3c882"/><rect x="253" y="297" width="3" height="1" fill="#bab44d"/><rect x="256" y="297" width="2" height="1" fill="#b3b84d"/><rect x="536" y="297" width="1" height="1" fill="#dcc482"/><rect x="537" y="297" width="5" height="1" fill="#c3b04d"/><rect x="72" y="288" width="2" height="11" fill="#d1ffff"/><rect x="98" y="288" width="6" height="11" fill="#fff7ff"/><rect x="112" y="288" width="4" height="11" fill="#e0ffff"/><rect x="140" y="288" width="4" height="11" fill="#ffefff"/><rect x="152" y="288" width="6" height="11" fill="#f0ffff"/><rect x="182" y="288" width="2" height="11" fill="#ffe7ff"/><rect x="352" y="288" width="6" height="11" fill="#f0ffff"/><rect x="382" y="288" width="2" height="11" fill="#ffe7ff"/><rect x="440" y="288" width="2" height="11" fill="#d1ffff"/><rect x="466" y="288" width="6" height="11" fill="#fff7ff"/><rect x="480" y="288" width="4" height="11" fill="#e0ffff"/><rect x="508" y="288" width="4" height="11" fill="#ffefff"/><rect x="74" y="298" width="6" height="1" fill="#80bbe6"/><rect x="80" y="298" width="6" height="1" fill="#90b3e6"/><rect x="86" y="298" width="2" height="1" fill="#a1dc79"/><rect x="88" y="298" width="8" height="1" fill="#fead79"/><rect x="96" y="298" width="2" height="1" fill="#cfc579"/><rect x="116" y="298" width="4" height="1" fill="#90b3e6"/><rect x="120" y="298" width="8" height="1" fill="#71c3e6"/><rect x="128" y="298" width="8" height="1" fill="#fead79"/><rect x="136" y="298" width="4" height="1" fill="#dfbd79"/><rect x="158" y="298" width="2" height="1" fill="#9fabe6"/><rect x="160" y="298" width="8" height="1" fill="#71c3e6"/><rect x="168" y="298" width="2" height="1" fill="#ce93e6"/><rect x="170" y="298" width="6" height="1" fill="#dfbd79"/><rect x="176" y="298" width="6" height="1" fill="#efb579"/><rect x="200" y="298" width="8" height="1" fill="#71c3e6"/><rect x="208" y="298" width="4" height="1" fill="#afa3e6"/><rect x="212" y="298" width="4" height="1" fill="#c0cc79"/><rect x="216" y="298" width="8" height="1" fill="#fead79"/><rect x="358" y="298" width="2" height="1" fill="#9fabe6"/><rect x="360" y="298" width="8" height="1" fill="#71c3e6"/><rect x="368" y="298" width="2" height="1" fill="#ce93e6"/><rect x="370" y="298" width="6" height="1" fill="#dfbd79"/><rect x="376" y="298" width="6" height="1" fill="#efb579"/><rect x="400" y="298" width="8" height="1" fill="#71c3e6"/><rect x="408" y="298" width="4" height="1" fill="#afa3e6"/><rect x="412" y="298" width="4" height="1" fill="#c0cc79"/><rect x="416" y="298" width="8" height="1" fill="#fead79"/><rect x="442" y="298" width="6" height="1" fill="#80bbe6"/><rect x="448" y="298" width="6" height="1" fill="#90b3e6"/><rect x="454" y="298" width="2" height="1" fill="#a1dc79"/><rect x="456" y="298" width="8" height="1" fill="#fead79"/><rect x="464" y="298" width="2" height="1" fill="#cfc579"/><rect x="484" y="298" width="4" height="1" fill="#90b3e6"/><rect x="488" y="298" width="8" height="1" fill="#71c3e6"/><rect x="496" y="298" width="8" height="1" fill="#fead79"/><rect x="504" y="298" width="4" height="1" fill="#dfbd79"/><rect x="248" y="297" width="4" height="6" fill="#fff7ff"/><rect x="258" y="297" width="6" height="6" fill="#fffbff"/><rect x="542" y="297" width="2" height="6" fill="#fff2ff"/><rect x="252" y="298" width="1" height="5" fill="#c5bc63"/><rect x="253" y="298" width="3" height="5" fill="#a5a320"/><rect x="256" y="298" width="2" height="5" fill="#9da720"/><rect x="536" y="298" width="1" height="5" fill="#cdb863"/><rect x="537" y="298" width="5" height="5" fill="#ad9f20"/><rect x="0" y="291" width="8" height="13" fill="#faffff"/><rect x="8" y="291" width="8" height="13" fill="#f7ffff"/><rect x="288" y="291" width="8" height="13" fill="#f2ffff"/><rect x="72" y="299" width="8" height="5" fill="#d1ffff"/><rect x="80" y="299" width="8" height="5" fill="#e1ffff"/><rect x="88" y="299" width="8" height="5" fill="#ffdfff"/><rect x="96" y="299" width="8" height="5" fill="#fff7ff"/><rect x="112" y="299" width="8" height="5" fill="#e0ffff"/><rect x="120" y="299" width="8" height="5" fill="#c2ffff"/><rect x="128" y="299" width="8" height="5" fill="#ffdfff"/><rect x="136" y="299" width="8" height="5" fill="#ffefff"/><rect x="152" y="299" width="8" height="5" fill="#f0ffff"/><rect x="160" y="299" width="8" height="5" fill="#c2ffff"/><rect x="168" y="299" width="8" height="5" fill="#ffefff"/><rect x="176" y="299" width="8" height="5" fill="#ffe7ff"/><rect x="200" y="299" width="8" height="5" fill="#c2ffff"/><rect x="216" y="299" width="8" height="5" fill="#ffdfff"/><rect x="352" y="299" width="8" height="5" fill="#f0ffff"/><rect x="360" y="299" width="8" height="5" fill="#c2ffff"/><rect x="368" y="299" width="8" height="5" fill="#ffefff"/><rect x="376" y="299" width="8" height="5" fill="#ffe7ff"/><rect x="400" y="299" width="8" height="5" fill="#c2ffff"/><rect x="416" y="299" width="8" height="5" fill="#ffdfff"/><rect x="440" y="299" width="8" height="5" fill="#d1ffff"/><rect x="448" y="299" width="8" height="5" fill="#e1ffff"/><rect x="456" y="299" width="8" height="5" fill="#ffdfff"/><rect x="464" y="299" width="8" height="5" fill="#fff7ff"/><rect x="480" y="299" width="8" height="5" fill="#e0ffff"/><rect x="488" y="299" width="8" height="5" fill="#c2ffff"/><rect x="496" y="299" width="8" height="5" fill="#ffdfff"/><rect x="504" y="299" width="8" height="5" fill="#ffefff"/><rect x="248" y="303" width="8" height="1" fill="#fff7ff"/><rect x="256" y="303" width="8" height="1" fill="#fffbff"/><rect x="536" y="303" width="8" height="1" fill="#fff2ff"/></g>
<g shape-rendering="auto">
<g>
<line x1="64.60" x2="233.40" y1="48.40" y2="48.40" stroke="#444444" stroke-width="1.2"/>
<line x1="64.60" x2="233.40" y1="84.40" y2="84.40" stroke="#444444" stroke-width="1.2"/>
<path d="M64.60,120.40 V11.90 H233.40 V120.40 Z" fill="none" stroke="#444444" stroke-width="1.2"/>
<text x="19.30" y="15.75">3.0</text>
<text x="36.07" y="15.40" style="font-size:9.5px">×</text>
<text x="44.00" y="15.75">10</text>
<text x="55.50" y="11.70" style="font-size:5.5px">-</text>
<text x="57.80" y="12.40" style="font-size:8px">2</text>
<text x="19.30" y="51.92">2.0</text>
<text x="36.07" y="51.57" style="font-size:9.5px">×</text>
<text x="44.00" y="51.92">10</text>
<text x="55.50" y="47.87" style="font-size:5.5px">-</text>
<text x="57.80" y="48.57" style="font-size:8px">2</text>
<text x="19.30" y="88.08">1.0</text>
<text x="36.07" y="87.73" style="font-size:9.5px">×</text>
<text x="44.00" y="88.08">10</text>
<text x="55.50" y="84.03" style="font-size:5.5px">-</text>
<text x="57.80" y="84.73" style="font-size:8px">2</text>
<text x="33.10" y="124.25">0.0</text>
<text x="241.60" y="15.95" text-anchor="middle">9</text>
<text x="241.60" y="51.92" text-anchor="middle">6</text>
<text x="241.60" y="88.43" text-anchor="middle">3</text>
<text x="241.60" y="124.95" text-anchor="middle">0</text>
<text x="85.74" y="133.60" text-anchor="middle">5</text>
<text x="126.22" y="133.60" text-anchor="middle">15</text>
<text x="169.07" y="133.60" text-anchor="middle">25</text>
<text x="212.05" y="133.60" text-anchor="middle">35</text>
<text x="149.00" y="147.00" text-anchor="middle" letter-spacing="0.22">number of passes</text>
<text x="148.75" y="28.00" text-anchor="middle">50 μN</text>
<text transform="translate(11.80,103.60) rotate(-90)">wear coefficient</text>
<text transform="translate(258.30,114.80) rotate(-90)" letter-spacing="0.22">wear volume in μm<tspan font-size="7.2" dy="-2.5">3</tspan></text>
<text x="132.30" y="175.60" text-anchor="middle">(<tspan font-weight="bold">a</tspan>)</text>
</g>
<g>
<line x1="348.60" x2="517.40" y1="48.40" y2="48.40" stroke="#444444" stroke-width="1.2"/>
<line x1="348.60" x2="517.40" y1="84.40" y2="84.40" stroke="#444444" stroke-width="1.2"/>
<path d="M348.60,120.40 V11.90 H517.40 V120.40 Z" fill="none" stroke="#444444" stroke-width="1.2"/>
<text x="303.30" y="15.75">3.0</text>
<text x="320.07" y="15.40" style="font-size:9.5px">×</text>
<text x="328.00" y="15.75">10</text>
<text x="339.50" y="11.70" style="font-size:5.5px">-</text>
<text x="341.80" y="12.40" style="font-size:8px">2</text>
<text x="303.30" y="51.92">2.0</text>
<text x="320.07" y="51.57" style="font-size:9.5px">×</text>
<text x="328.00" y="51.92">10</text>
<text x="339.50" y="47.87" style="font-size:5.5px">-</text>
<text x="341.80" y="48.57" style="font-size:8px">2</text>
<text x="303.30" y="88.08">1.0</text>
<text x="320.07" y="87.73" style="font-size:9.5px">×</text>
<text x="328.00" y="88.08">10</text>
<text x="339.50" y="84.03" style="font-size:5.5px">-</text>
<text x="341.80" y="84.73" style="font-size:8px">2</text>
<text x="317.10" y="124.25">0.0</text>
<text x="525.60" y="15.95" text-anchor="middle">9</text>
<text x="525.60" y="51.92" text-anchor="middle">6</text>
<text x="525.60" y="88.43" text-anchor="middle">3</text>
<text x="525.60" y="124.95" text-anchor="middle">0</text>
<text x="369.74" y="133.60" text-anchor="middle">5</text>
<text x="410.22" y="133.60" text-anchor="middle">15</text>
<text x="453.07" y="133.60" text-anchor="middle">25</text>
<text x="496.05" y="133.60" text-anchor="middle">35</text>
<text x="433.00" y="147.00" text-anchor="middle" letter-spacing="0.22">number of passes</text>
<text x="432.75" y="28.00" text-anchor="middle">100 μN</text>
<text transform="translate(295.80,103.60) rotate(-90)">wear coefficient</text>
<text transform="translate(542.30,114.80) rotate(-90)" letter-spacing="0.22">wear volume in μm<tspan font-size="7.2" dy="-2.5">3</tspan></text>
<text x="416.30" y="175.60" text-anchor="middle">(<tspan font-weight="bold">b</tspan>)</text>
</g>
<g>
<line x1="64.60" x2="233.40" y1="226.60" y2="226.60" stroke="#444444" stroke-width="1.2"/>
<line x1="64.60" x2="233.40" y1="262.60" y2="262.60" stroke="#444444" stroke-width="1.2"/>
<path d="M64.60,298.60 V190.10 H233.40 V298.60 Z" fill="none" stroke="#444444" stroke-width="1.2"/>
<text x="19.30" y="193.95">3.0</text>
<text x="36.07" y="193.60" style="font-size:9.5px">×</text>
<text x="44.00" y="193.95">10</text>
<text x="55.50" y="189.90" style="font-size:5.5px">-</text>
<text x="57.80" y="190.60" style="font-size:8px">2</text>
<text x="19.30" y="230.12">2.0</text>
<text x="36.07" y="229.77" style="font-size:9.5px">×</text>
<text x="44.00" y="230.12">10</text>
<text x="55.50" y="226.07" style="font-size:5.5px">-</text>
<text x="57.80" y="226.77" style="font-size:8px">2</text>
<text x="19.30" y="266.28">1.0</text>
<text x="36.07" y="265.93" style="font-size:9.5px">×</text>
<text x="44.00" y="266.28">10</text>
<text x="55.50" y="262.23" style="font-size:5.5px">-</text>
<text x="57.80" y="262.93" style="font-size:8px">2</text>
<text x="33.10" y="302.45">0.0</text>
<text x="241.60" y="194.15" text-anchor="middle">9</text>
<text x="241.60" y="230.12" text-anchor="middle">6</text>
<text x="241.60" y="266.63" text-anchor="middle">3</text>
<text x="241.60" y="303.15" text-anchor="middle">0</text>
<text x="85.74" y="311.80" text-anchor="middle">5</text>
<text x="126.22" y="311.80" text-anchor="middle">15</text>
<text x="169.07" y="311.80" text-anchor="middle">25</text>
<text x="212.05" y="311.80" text-anchor="middle">35</text>
<text x="149.00" y="325.20" text-anchor="middle" letter-spacing="0.22">number of passes</text>
<text x="148.75" y="206.20" text-anchor="middle">150 μN</text>
<text transform="translate(11.80,281.80) rotate(-90)">wear coefficient</text>
<text transform="translate(258.30,293.00) rotate(-90)" letter-spacing="0.22">wear volume in μm<tspan font-size="7.2" dy="-2.5">3</tspan></text>
<text x="132.30" y="347.00" text-anchor="middle">(<tspan font-weight="bold">c</tspan>)</text>
</g>
<g>
<line x1="348.60" x2="517.40" y1="226.60" y2="226.60" stroke="#444444" stroke-width="1.2"/>
<line x1="348.60" x2="517.40" y1="262.60" y2="262.60" stroke="#444444" stroke-width="1.2"/>
<path d="M348.60,298.60 V190.10 H517.40 V298.60 Z" fill="none" stroke="#444444" stroke-width="1.2"/>
<text x="303.30" y="193.95">3.0</text>
<text x="320.07" y="193.60" style="font-size:9.5px">×</text>
<text x="328.00" y="193.95">10</text>
<text x="339.50" y="189.90" style="font-size:5.5px">-</text>
<text x="341.80" y="190.60" style="font-size:8px">2</text>
<text x="303.30" y="230.12">2.0</text>
<text x="320.07" y="229.77" style="font-size:9.5px">×</text>
<text x="328.00" y="230.12">10</text>
<text x="339.50" y="226.07" style="font-size:5.5px">-</text>
<text x="341.80" y="226.77" style="font-size:8px">2</text>
<text x="303.30" y="266.28">1.0</text>
<text x="320.07" y="265.93" style="font-size:9.5px">×</text>
<text x="328.00" y="266.28">10</text>
<text x="339.50" y="262.23" style="font-size:5.5px">-</text>
<text x="341.80" y="262.93" style="font-size:8px">2</text>
<text x="317.10" y="302.45">0.0</text>
<text x="525.60" y="194.15" text-anchor="middle">9</text>
<text x="525.60" y="230.12" text-anchor="middle">6</text>
<text x="525.60" y="266.63" text-anchor="middle">3</text>
<text x="525.60" y="303.15" text-anchor="middle">0</text>
<text x="369.74" y="311.80" text-anchor="middle">5</text>
<text x="410.22" y="311.80" text-anchor="middle">15</text>
<text x="453.07" y="311.80" text-anchor="middle">25</text>
<text x="496.05" y="311.80" text-anchor="middle">35</text>
<text x="433.00" y="325.20" text-anchor="middle" letter-spacing="0.22">number of passes</text>
<text x="432.75" y="206.20" text-anchor="middle">200 μN</text>
<text transform="translate(295.80,281.80) rotate(-90)">wear coefficient</text>
<text transform="translate(542.30,293.00) rotate(-90)" letter-spacing="0.22">wear volume in μm<tspan font-size="7.2" dy="-2.5">3</tspan></text>
<text x="416.30" y="347.00" text-anchor="middle">(<tspan font-weight="bold">d</tspan>)</text>
</g>
</g>
</svg>
</body></html>
